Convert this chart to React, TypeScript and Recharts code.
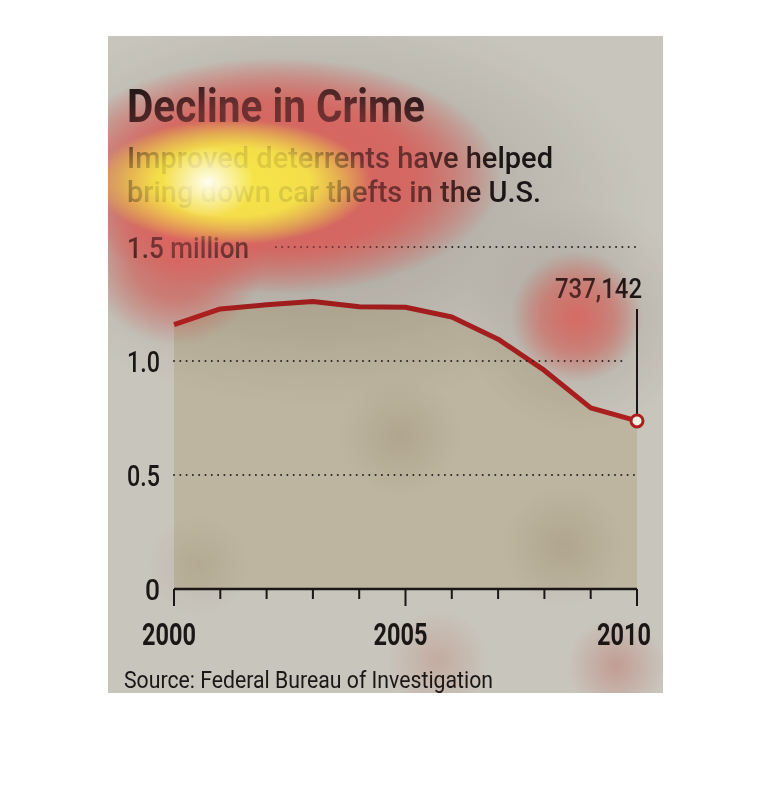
import React from "react";
import { Area, ComposedChart, ReferenceLine, XAxis, YAxis } from "recharts";

// car thefts in the U.S., FBI
const years = [2000, 2001, 2002, 2003, 2004, 2005, 2006, 2007, 2008, 2009, 2010];
const thefts = [1160002, 1228391, 1246646, 1261226, 1237851, 1235859, 1192809, 1095769, 958629, 794616, 737142];
const yTicks = [0, 500000, 1000000, 1500000];
const yLabels = ["0", "0.5", "1.0", "1.5 million"];

const data = years.map((year, i) => ({ year, thefts: thefts[i] }));
const last = data[data.length - 1];

const FONT = 'Roboto, "Noto Sans", sans-serif';
const RED = "#ad1f1f";
const INK = "#1b1716";

function YTick({ x, y, payload }: any) {
  const i = yTicks.indexOf(payload.value);
  if (i === yTicks.length - 1) {
    return (
      <text x={19} y={y + 11} fontSize={30} fontWeight={500} fill={INK} fontFamily={FONT} textLength={122} lengthAdjust="spacingAndGlyphs">
        {yLabels[i]}
      </text>
    );
  }
  const w = i === 0 ? 15 : 33;
  return (
    <text x={x - 14 - w} y={y + 11} fontSize={30} fontWeight={500} fill={INK} fontFamily={FONT} textLength={w} lengthAdjust="spacingAndGlyphs">
      {yLabels[i]}
    </text>
  );
}

function XTick({ x, y, payload, index }: any) {
  const major = payload.value % 5 === 0;
  const isLast = index === years.length - 1;
  return (
    <g>
      <line x1={x} x2={x} y1={y} y2={y + (major ? 17 : 10)} stroke={INK} strokeWidth={2} />
      {major && (
        <text
          x={isLast ? x - 40 : x - 32}
          y={y + 56}
          fontSize={31}
          fontWeight="bold"
          fill={INK}
          fontFamily={FONT}
          textLength={54}
          lengthAdjust="spacingAndGlyphs"
        >
          {payload.value}
        </text>
      )}
    </g>
  );
}

function EndDot({ cx, cy, index }: any) {
  if (index !== data.length - 1) return null;
  return <circle cx={cx} cy={cy} r={6} fill="#f3eee6" stroke={RED} strokeWidth={3} />;
}

const dotted = { stroke: "#2a2624", strokeWidth: 2, strokeDasharray: "0 6.3", strokeLinecap: "round" as const };

// eye-tracking heat overlay: a multiply layer that tints, and a normal layer that glows
const heatTint = [
  "radial-gradient(ellipse 140px 64px at 125px 146px, rgba(255,252,90,0.95) 0%, rgba(255,250,90,0.9) 55%, rgba(255,200,100,0) 100%)",
  "radial-gradient(ellipse 90px 95px at 68px 215px, rgba(255,118,112,0.85), rgba(255,118,112,0.6) 50%, rgba(255,118,112,0) 100%)",
  "radial-gradient(ellipse 225px 118px at 168px 140px, rgba(255,115,110,0.92) 0%, rgba(255,118,112,0.85) 62%, rgba(255,122,116,0) 100%)",
  "radial-gradient(circle 66px at 469px 281px, rgba(255,122,114,0.85), rgba(255,128,120,0.55) 55%, rgba(255,132,122,0) 100%)",
  "radial-gradient(circle 48px at 508px 630px, rgba(240,150,145,0.5), rgba(240,150,145,0) 100%)",
  "radial-gradient(circle 50px at 330px 625px, rgba(240,160,150,0.35), rgba(240,160,150,0) 100%)",
  "radial-gradient(circle 60px at 292px 400px, rgba(170,150,135,0.2), rgba(170,150,135,0) 100%)",
  "radial-gradient(circle 60px at 455px 510px, rgba(170,150,135,0.2), rgba(170,150,135,0) 100%)",
  "radial-gradient(circle 50px at 90px 530px, rgba(170,150,135,0.15), rgba(170,150,135,0) 100%)",
  "radial-gradient(ellipse 330px 200px at 210px 170px, rgba(160,150,148,0.45), rgba(160,150,148,0) 100%)",
  "radial-gradient(circle 115px at 470px 281px, rgba(160,150,148,0.3), rgba(160,150,148,0) 100%)",
].join(", ");

const heatGlow = [
  "radial-gradient(ellipse 46px 36px at 100px 146px, rgba(255,255,250,0.95), rgba(255,255,240,0) 100%)",
  "radial-gradient(ellipse 138px 62px at 125px 146px, rgba(255,252,70,0.78) 0%, rgba(255,250,70,0.72) 55%, rgba(255,205,70,0) 100%)",
  "radial-gradient(ellipse 225px 118px at 168px 140px, rgba(238,105,105,0.45) 0%, rgba(238,105,105,0.38) 62%, rgba(238,105,105,0) 100%)",
  "radial-gradient(ellipse 85px 90px at 68px 215px, rgba(238,105,105,0.35), rgba(238,105,105,0) 100%)",
  "radial-gradient(circle 60px at 469px 281px, rgba(238,110,105,0.42), rgba(238,110,105,0) 100%)",
].join(", ");

const layer = { position: "absolute" as const, left: 0, top: 0, width: 555, height: 657, pointerEvents: "none" as const };

export default function App() {
  return (
    <div style={{ position: "relative", width: 754, height: 760 }}>
      <div
        style={{
          position: "absolute",
          left: 100,
          top: 28,
          width: 555,
          height: 657,
          background: "#c8c5bc",
        }}
      >
        <ComposedChart width={580} height={657} data={data} margin={{ top: 211, right: 51, bottom: 0, left: 0 }}>
          <XAxis
            dataKey="year"
            type="number"
            domain={[2000, 2010]}
            ticks={years}
            height={104}
            tickSize={0}
            tickMargin={0}
            tickLine={false}
            axisLine={{ stroke: INK, strokeWidth: 2.5 }}
            tick={<XTick />}
            interval={0}
          />
          <YAxis
            type="number"
            domain={[0, 1500000]}
            ticks={yTicks}
            width={66}
            axisLine={false}
            tickLine={false}
            tickSize={0}
            tickMargin={0}
            tick={<YTick />}
            interval={0}
          />
          <Area
            type="linear"
            dataKey="thefts"
            fill="#bdb59f"
            fillOpacity={1}
            stroke="none"
            isAnimationActive={false}
          />
          <ReferenceLine segment={[{ x: 2002.2, y: 1500000 }, { x: 2010, y: 1500000 }]} {...dotted} />
          <ReferenceLine segment={[{ x: 2000, y: 1000000 }, { x: 2009.68, y: 1000000 }]} {...dotted} />
          <ReferenceLine segment={[{ x: 2000, y: 500000 }, { x: 2010, y: 500000 }]} {...dotted} />
          <ReferenceLine
            segment={[{ x: last.year, y: 1228000 }, { x: last.year, y: 763000 }]}
            stroke={INK}
            strokeWidth={2}
            label={(p: any) => (
              <text
                x={p.viewBox.x - 82}
                y={p.viewBox.y - 11}
                fontSize={28}
                fontWeight={500}
                fill={INK}
                fontFamily={FONT}
                textLength={87}
                lengthAdjust="spacingAndGlyphs"
              >
                {last.thefts.toLocaleString("en-US")}
              </text>
            )}
          />
          <Area
            type="linear"
            dataKey="thefts"
            fill="none"
            stroke={RED}
            strokeWidth={5}
            strokeLinejoin="round"
            dot={<EndDot />}
            activeDot={false}
            isAnimationActive={false}
          />
        </ComposedChart>
        <svg width={555} height={657} style={{ position: "absolute", left: 0, top: 0 }}>
          <text x={19} y={86} fontSize={47} fontWeight="bold" fill={INK} fontFamily={FONT} textLength={298} lengthAdjust="spacingAndGlyphs">
            Decline in Crime
          </text>
          <text x={19} y={132} fontSize={30} fontWeight={500} fill={INK} fontFamily={FONT} textLength={426} lengthAdjust="spacingAndGlyphs">
            Improved deterrents have helped
          </text>
          <text x={19} y={166} fontSize={30} fontWeight={500} fill={INK} fontFamily={FONT} textLength={414} lengthAdjust="spacingAndGlyphs">
            bring down car thefts in the U.S.
          </text>
          <text x={16} y={652} fontSize={24} fill={INK} fontFamily={FONT} textLength={369} lengthAdjust="spacingAndGlyphs">
            Source: Federal Bureau of Investigation
          </text>
        </svg>
        <div style={{ ...layer, background: heatTint, mixBlendMode: "multiply" }} />
        <div style={{ ...layer, background: heatGlow }} />
      </div>
    </div>
  );
}
